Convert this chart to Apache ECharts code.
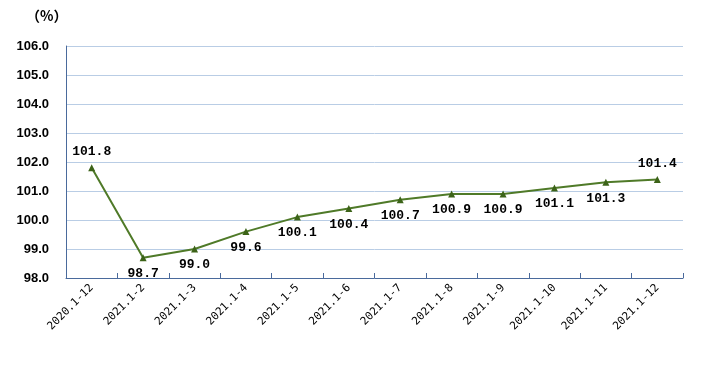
<!DOCTYPE html>
<html><head><meta charset="utf-8">
<script src="https://cdn.jsdelivr.net/npm/echarts@6/dist/echarts.min.js"></script>
<style>html,body{margin:0;padding:0;background:#fff}#c{width:713px;height:383px}</style>
</head><body><div id="c"></div>
<script>
const categories = ['2020.1-12','2021.1-2','2021.1-3','2021.1-4','2021.1-5','2021.1-6','2021.1-7','2021.1-8','2021.1-9','2021.1-10','2021.1-11','2021.1-12'];
const values = [101.8, 98.7, 99.0, 99.6, 100.1, 100.4, 100.7, 100.9, 100.9, 101.1, 101.3, 101.4];
const labelSides = ['top','bottom','bottom','bottom','bottom','bottom','bottom','bottom','bottom','bottom','bottom','top'];
const yMin = 98, yMax = 106, yStep = 1;

const chart = echarts.init(document.getElementById('c'));
chart.setOption({
  animation: false,
  graphic: [{type:'text', left: 26, top: 9, style:{text:'（%）', font:'bold 14px "Noto Sans CJK SC"', fill:'#000'}}],
  grid: {left: 66, right: 30, top: 46, bottom: 105, containLabel: false},
  xAxis: {
    type: 'category', data: categories, boundaryGap: true,
    axisLine: {lineStyle: {color: '#4a6a9c', width: 1}},
    axisTick: {show: true, inside: true, length: 5, lineStyle: {color: '#4a6a9c'}},
    axisLabel: {rotate: 45, interval: 0, margin: 8, color: '#000', fontFamily: 'DejaVu Sans Mono', fontSize: 11}
  },
  yAxis: {
    type: 'value', min: yMin, max: yMax, interval: yStep,
    axisLine: {show: true, lineStyle: {color: '#4a6a9c', width: 1}},
    axisTick: {show: false},
    splitLine: {lineStyle: {color: '#b9cde5', width: 1}},
    axisLabel: {formatter: v => v.toFixed(1), color: '#000', fontFamily: 'Liberation Sans', fontWeight: 'bold', fontSize: 13, margin: 17}
  },
  series: [{
    type: 'line',
    data: values.map((v, i) => ({value: v, label: {position: labelSides[i]}})),
    symbol: 'triangle', symbolSize: 7,
    lineStyle: {color: '#4f7a28', width: 2},
    itemStyle: {color: '#3c6318'},
    label: {show: true, distance: 6, formatter: p => p.value.toFixed(1), color: '#000', fontFamily: 'Liberation Mono', fontWeight: 'bold', fontSize: 13}
  }]
});
</script></body></html>
